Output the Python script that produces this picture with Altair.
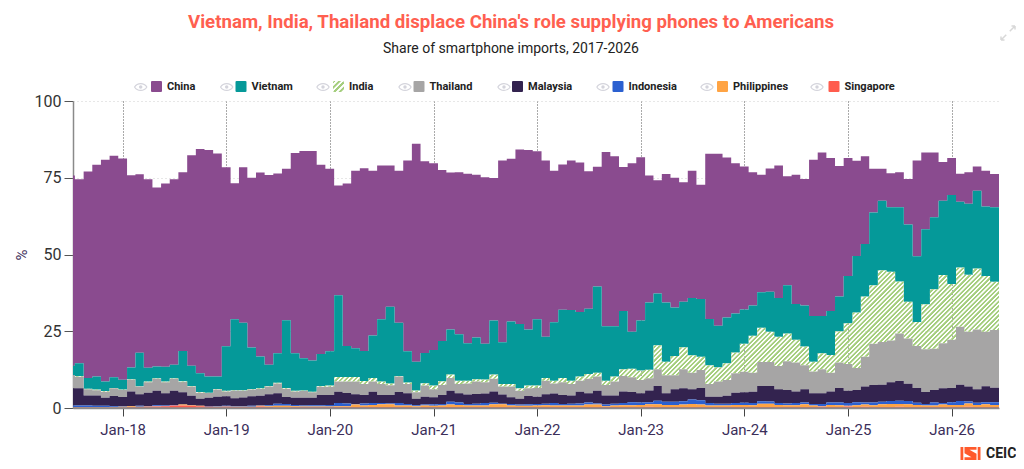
import altair as alt
import pandas as pd

# Cumulative top edge of each stacked band, in %, Jul-2017 .. Jun-2026
china_top = [75.7,74.5,77,79.2,80.9,82.2,
 81.3,75.7,76.1,74.5,71.8,73.1,74.5,76.7,82.2,84.4,84,82.9,
 78.4,73.2,78.4,75,76.7,75.9,76.4,77.9,83.1,83.7,83.7,79.2,
 77.9,72.5,73.1,77.3,78.1,77.3,79,79,77.3,80.6,86.1,80.4,
 79.7,77.5,76.7,76.8,76.3,76,75.2,74.9,80.6,81.2,84.2,84,
 83.6,80.6,77.3,79.3,80.6,80,77.1,78.6,83.4,82,78.5,79.7,
 81.7,75.7,74.2,76.2,75,73.5,77.3,72.7,82.8,82.8,81.6,79.7,
 78.7,76.8,76,78,79,75.5,76,74.6,80.9,83.2,81.4,78.8,
 81.4,80.5,82,77.9,77.9,76.5,76.8,74.6,80.6,83.2,83.2,80.1,
 81.4,76.3,76.8,78.7,77.3,76.2]
vietnam_top = [13.8,14.6,9.8,10.3,8.6,10,
 9.2,13.1,18,13.1,13.5,13.4,14.1,18.5,13.7,11.3,10.3,10.3,
 20.1,28.9,27.8,19.7,16.8,14.1,17.8,28.6,17.8,16.2,15.5,17.6,
 18.5,36.7,20.2,19.5,18.6,23.6,28.9,33,27.8,18.5,15.1,17.9,
 18.9,21.8,25.6,24,21.1,23,20.9,28.5,21.4,28.2,27.4,25.6,
 28.9,23.2,27.9,32,31.9,31.3,32.3,39.6,26.6,26.6,31.6,24.8,
 28.5,34.4,37.3,34.4,32.7,34.6,35.8,35.5,29,26.8,29.5,30.8,
 32.1,33.4,37.7,37.9,35.8,40,33.9,33.4,30,30,31.6,36.3,
 43,49.5,53.4,63.7,67.5,65.4,65.4,59.8,49.4,58.2,62.1,67.5,
 69.4,67.2,66.5,70.8,65.6,65.4]
india_top = [10.7,10.4,6.3,6,5.5,6.5,
 6,9.3,7.1,8.6,9.7,8.6,9.7,8.6,7.1,5.2,5,6.2,
 5.6,5.8,5.8,6.2,6.4,7.2,8.2,6.5,5.6,5.7,5.3,7.2,
 7.3,10.1,10.1,10.1,8.8,9.8,8.6,8,10.4,8.3,5.7,8.1,
 7.3,8.7,10.9,8.9,8.9,9.4,9.3,10.9,7.8,7.8,6.4,7.3,
 7.3,9.8,8.9,9.8,8.9,10.3,11.1,11.5,8.9,10.3,12.6,12.8,
 12.2,12.5,20.4,15.1,16.9,19.8,17.2,16.7,13.9,13.3,14.6,18.1,
 20.9,23.5,26.1,24.8,23.2,24.3,22.2,20,15.1,17.8,17.3,25,
 27.6,31.1,36.3,40,44.9,44.4,41.2,34.6,28,33.8,38.7,43.3,
 40.4,45.8,43.4,45.4,43,41.1]
thailand_top = [10.7,10.2,6.1,5.8,5.3,6.4,
 5.9,9.1,7,8.4,9.5,8.4,9.5,8.4,6.9,5,4.9,6,
 5.4,5.6,5.6,6,6.2,7,8,6.3,5.4,5.5,5.1,6.9,
 6.9,8.6,8.6,8.6,7.8,8.6,7.8,7.4,10.3,7.8,5.1,7.3,
 6.1,7.5,9.8,7.8,8,8.6,8.4,9.5,7,7,5.6,6.4,
 6.5,8.9,8,8.4,7.8,8.9,9.5,10.3,7.5,8.6,10.4,10,
 9.1,9.7,12.6,10.7,10.7,12.6,11.5,12.4,7.8,8.6,9.1,11.3,
 11.8,11.5,15,15,13.7,15.2,14.8,13.9,11.9,12.6,11.5,14.8,
 14.3,13,16.7,20.9,21.5,22,24.3,22.6,20.2,19.1,19.3,21.1,
 22.2,26.5,24.8,25.6,24.8,25.4]
malaysia_top = [6.4,6.4,4.1,4.1,3.3,3.9,
 3.6,5.3,4.5,5,5.6,4.8,5.6,5,3.9,3,3.3,3.7,
 3.8,3.2,3.4,3.8,4,4.5,4.8,3.6,3.3,3.3,3.3,4.2,
 4.2,5.3,4.9,4.5,4.2,5.3,4.2,4.2,5.2,4.8,3,3.7,
 3.5,4.2,5.6,4.8,4.4,4.6,4.7,5.4,4.4,3.5,3,3.9,
 3.7,4.5,4.7,4.2,4.1,5.3,4.8,5.6,4.1,4.1,5.4,5.2,
 4.8,5.7,7.2,4.8,6.1,6.4,6.1,6.5,3.7,3.7,4,5,
 5.1,5.3,7.2,7.2,6.1,5.9,5.4,6.1,4.8,4.8,5.4,6.5,
 5.6,5.9,7,7.5,7.6,8.4,8.8,7.9,6.5,5.2,5.9,6.4,
 6.5,7.6,7,6.1,7.1,6.6]
indonesia_top = [.8,.8,.8,.7,.7,.6,
 .6,.5,.7,.6,.9,.8,1,1,.8,.7,.5,.6,
 .7,.6,.6,.7,.8,.9,1.4,1.3,1,.8,.9,.9,
 1,1.6,1.5,1.3,1.5,1.6,1.6,1.5,1.6,1.3,.9,1.1,
 1.2,1.3,2,1.8,1.3,1.4,1.6,1.7,1.4,1.3,1.1,1.2,
 1.3,1.4,1.6,1.3,1.4,1.5,1.8,1.5,1.1,1.4,1.6,1.9,
 1.8,1.9,2.4,2,2,2.2,2.8,2.5,1.6,1.4,1.4,1.6,
 1.7,1.6,2.2,2.1,1.6,1.5,1.6,1.8,1.3,1.3,1.8,1.8,
 1.6,1.9,1.8,1.8,2,2.3,2.4,2.3,1.7,1.3,1.8,1.6,
 1.9,2.3,2.1,1.7,1.9,1.9]
philippines_top = [.3,.3,.3,.3,.3,.3,
 .4,.6,.4,.5,.6,.6,.8,1.1,.9,.7,.4,.4,
 .5,.4,.4,.4,.7,.6,.7,.7,.6,.5,.5,.5,
 .5,.6,.6,1.1,.8,1,1.2,1.2,.8,.8,.6,.8,
 .7,.8,1.1,1,.8,.8,.8,1.2,1.2,.8,.7,.7,
 .8,.9,.8,.8,.8,.8,1.1,1.1,.6,.8,.9,.9,
 1,1.2,1.2,1,1,1.1,1.3,1.1,.8,.8,.8,1,
 1,.9,1.4,1.4,1,.9,.9,1.2,.8,.6,1,.9,
 .7,.9,1.1,.9,1.2,1.3,1.3,1.2,1,.8,.8,1.1,
 1,1,1.5,1,1.2,1]
singapore_top = [.2,.2,.2,.2,.2,.2,
 .2,.3,.3,.4,.5,.6,.8,.8,.7,.6,.4,.3,
 .4,.3,.3,.3,.5,.3,.2,.2,.3,.3,.3,.3,
 .3,.3,.3,.3,.3,.3,.3,.3,.3,.3,.2,.3,
 .3,.3,.3,.3,.3,.3,.3,.3,.3,.3,.3,.3,
 .3,.3,.3,.3,.3,.3,.3,.3,.3,.3,.3,.3,
 .3,.4,.3,.3,.3,.3,.3,.3,.3,.3,.3,.3,
 .3,.3,.3,.3,.3,.3,.3,.3,.3,.4,.3,.3,
 .5,.3,.4,.3,.3,.3,.4,.3,.3,.3,.3,.3,
 .3,.3,.4,.3,.3,.3]

series = ["China", "Vietnam", "India", "Thailand", "Malaysia", "Indonesia", "Philippines", "Singapore"]
tops = [china_top, vietnam_top, india_top, thailand_top, malaysia_top, indonesia_top, philippines_top, singapore_top]
colors = ["#8A4B8F", "#059999", "transparent", "#A6A5A5", "#33234F", "#2B60D0", "#FFA444", "#FF5C4D"]
HATCH = "#A5CE7E"
CLEAR = "rgba(255,255,255,0)"
TITLE = "Vietnam, India, Thailand displace China's role supplying phones to Americans"
SUBTITLE = "Share of smartphone imports, 2017-2026"
INK = "#3B2E5A"

W, H = 926, 307
dates = pd.date_range("2017-07-01", periods=len(china_top) + 1, freq="MS")
year_ticks = [f"{y}-01-01" for y in range(2018, 2027)]

rows = []
for k, name in enumerate(series):
    below = tops[k + 1] if k + 1 < len(tops) else [0] * len(china_top)
    vals = [max(a - b, 0) for a, b in zip(tops[k], below)]
    vals = vals + vals[-1:]  # closes the last step at the right edge
    for d, v in zip(dates, vals):
        rows.append({"date": d.strftime("%Y-%m-%d"), "country": name, "share": round(v, 2), "rank": k})
long_df = pd.DataFrame(rows)

india_df = pd.DataFrame({
    "date": [d.strftime("%Y-%m-%d") for d in dates],
    "top": india_top + india_top[-1:],
    "low": thailand_top + thailand_top[-1:],
})


def stripes(x2, y2, count):
    # small ramps between the stripes keep them from aliasing into a moire
    stops = []
    for i in range(count):
        stops += [
            alt.GradientStop(offset=i / count, color=HATCH),
            alt.GradientStop(offset=(i + .42) / count, color=HATCH),
            alt.GradientStop(offset=(i + .58) / count, color=CLEAR),
            alt.GradientStop(offset=(i + .84) / count, color=CLEAR),
            alt.GradientStop(offset=(i + 1) / count, color=HATCH),
        ]
    return alt.Gradient(gradient="linear", x1=0, y1=0, x2=x2, y2=y2, stops=stops)


# The gradient runs in the area's own box: aim it so the stripes come out at 45 degrees.
bw = 933.0
bh = (max(india_top) - min(thailand_top)) * H / 100
reach = (bw + bh) / (bw * bw + bh * bh)
india_fill = stripes(reach * bw, reach * bh, int((bw + bh) / 4.6))

x_enc = alt.X(
    "date:T",
    scale=alt.Scale(type="utc", domain=["2017-07-10", "2026-06-17"]),
    axis=alt.Axis(
        values=year_ticks, labelExpr="utcFormat(datum.value, '%b-%y')", title=None, grid=True,
        gridColor="#555555", gridDash=[1, 2], gridWidth=1,
        domainColor="#8A8A8A", domainWidth=1.5, tickColor="#444444", tickSize=8, tickWidth=1,
        labelFont="Roboto", labelFontSize=15, labelColor=INK, labelPadding=6, labelFlush=False,
    ),
)
y_scale = alt.Scale(domain=[0, 100], nice=False)

stack = alt.Chart(long_df).mark_area(interpolate="step", clip=True).encode(
    x=x_enc,
    y=alt.Y(
        "share:Q", stack="zero", scale=y_scale,
        axis=alt.Axis(
            values=[0, 25, 50, 75, 100], title="%", grid=True, gridColor="#CFCFCF", gridDash=[1, 3], gridWidth=1,
            domainColor="#8A8A8A", domainWidth=1.5, tickColor="#555555", tickSize=9, tickWidth=1,
            labelFont="Roboto", labelFontSize=16, labelColor="#333333", labelPadding=3,
            titleFont="Roboto", titleFontSize=15, titleFontWeight="normal", titleColor=INK,
            titlePadding=5,
        ),
    ),
    color=alt.Color(
        "country:N",
        scale=alt.Scale(domain=series, range=colors),
        legend=alt.Legend(
            title=None, orient="none", legendX=78, legendY=-20, direction="horizontal", columns=8,
            gridAlign="none", columnPadding=39.5, padding=0,
            symbolType="M-1,-.8Q-1,-1-.8,-1H.8Q1,-1 1,-.8V.8Q1,1 .8,1H-.8Q-1,1-1,.8Z",
            symbolSize=121, symbolStrokeWidth=0, symbolOpacity=1, labelOffset=5,
            labelFont="Roboto", labelFontSize=11, labelFontWeight="bold", labelColor="#222222",
        ),
    ),
    order=alt.Order("rank:Q", sort="descending"),
)

india_area = alt.Chart(india_df).mark_area(interpolate="step", clip=True, fill=india_fill).encode(
    x=alt.X("date:T"), y=alt.Y("top:Q", scale=y_scale), y2="low:Q",
)

one = pd.DataFrame({"a": [0]})
EYE = "M-1,0C-.55,-.75 .55,-.75 1,0C.55,.75 -.55,.75 -1,0Z"
eye_centres = [140.7, 226.7, 323, 405, 504, 603, 707, 817]
layers = [stack, india_area]

# baseline stays visible over the bands
layers.append(alt.Chart(one).mark_rule(color="#8A8A8A", strokeWidth=1.5).encode(
    x=alt.value(0), x2=alt.value(W), y=alt.value(H)))

for cx in eye_centres:
    px, py = cx - 73, 87 - 101
    layers.append(alt.Chart(one).mark_point(shape=EYE, size=150, filled=False, stroke="#D4D4DC", strokeWidth=1.2, opacity=1)
                  .encode(x=alt.value(px), y=alt.value(py)))
    layers.append(alt.Chart(one).mark_point(shape="circle", size=12, filled=True, fill="#D4D4DC", opacity=1)
                  .encode(x=alt.value(px), y=alt.value(py)))

# hatched legend swatch for India
layers.append(alt.Chart(one).mark_rect(cornerRadius=1.5, fill=stripes(1, 1, 4)).encode(
    x=alt.value(333 - 73), x2=alt.value(344 - 73), y=alt.value(81 - 101), y2=alt.value(92 - 101)))

# CEIC logo and expand icon
LOGO = ("M-1,-.65H-.72V.65H-1ZM.72,-.65H1V.65H.72Z"
        "M-.6,-.65H.6V-.38H-.1L.6,.02V.65H-.6V.38H.1L-.6,-.02Z")
layers.append(alt.Chart(one).mark_point(shape=LOGO, size=400, filled=True, fill="#FF5A2C", opacity=1)
              .encode(x=alt.value(970.5 - 73), y=alt.value(453.5 - 101)))
layers.append(alt.Chart(one).mark_text(text="CEIC", font="Roboto", fontSize=14, fontWeight="bold", color="#222222", align="left")
              .encode(x=alt.value(986 - 73), y=alt.value(453.5 - 101)))
ARROW = "M.25,-.25L1,-1M1,-1H.5M1,-1V-.5M-.25,.25L-1,1M-1,1H-.5M-1,1V.5"
layers.append(alt.Chart(one).mark_point(shape=ARROW, size=196, filled=False, stroke="#D8D8D8", strokeWidth=1.5, opacity=1)
              .encode(x=alt.value(1008 - 73), y=alt.value(33 - 101)))

chart = alt.layer(*layers).resolve_scale(color="independent").properties(
    width=W, height=H,
    autosize=alt.AutoSizeParams(type="none"),
    padding={"left": 65, "top": 93, "right": 17, "bottom": 52},
    title=alt.TitleParams(
        text=TITLE, subtitle=SUBTITLE, anchor="middle", dx=-25, offset=-33,
        font="Roboto", fontSize=18.66, fontWeight="bold", color="#FF5F50",
        subtitleFont="Roboto", subtitleFontSize=14, subtitleColor="#222222", subtitlePadding=10,
    ),
).configure_view(stroke=None)

chart.save("out.html", embed_options={"renderer": "svg", "actions": False})
